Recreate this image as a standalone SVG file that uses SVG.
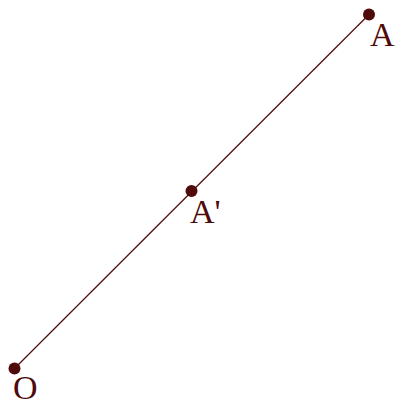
<svg xmlns="http://www.w3.org/2000/svg" width="396" height="405" viewBox="0 0 396 405">
<style>
.pt{fill:#4f0a0a}
.lbl{font-family:"Liberation Serif","Times New Roman",serif;font-size:34px;fill:#4f0a0a}
.ln{stroke:#4f0a0a;stroke-width:1.2;fill:none}
</style>
<rect width="396" height="405" fill="#fff"/>
<g id="connectors">
<line class="ln" x1="14.5" y1="368.5" x2="369" y2="14.5"/>
</g>
<g id="O">
<circle class="pt" cx="14.5" cy="368.5" r="6"/>
<text class="lbl" x="13" y="399">O</text>
</g>
<g id="A-prime">
<circle class="pt" cx="191.5" cy="191" r="6"/>
<text class="lbl" x="190" y="223">A'</text>
</g>
<g id="A">
<circle class="pt" cx="369" cy="14.5" r="6"/>
<text class="lbl" x="370" y="46">A</text>
</g>
</svg>
